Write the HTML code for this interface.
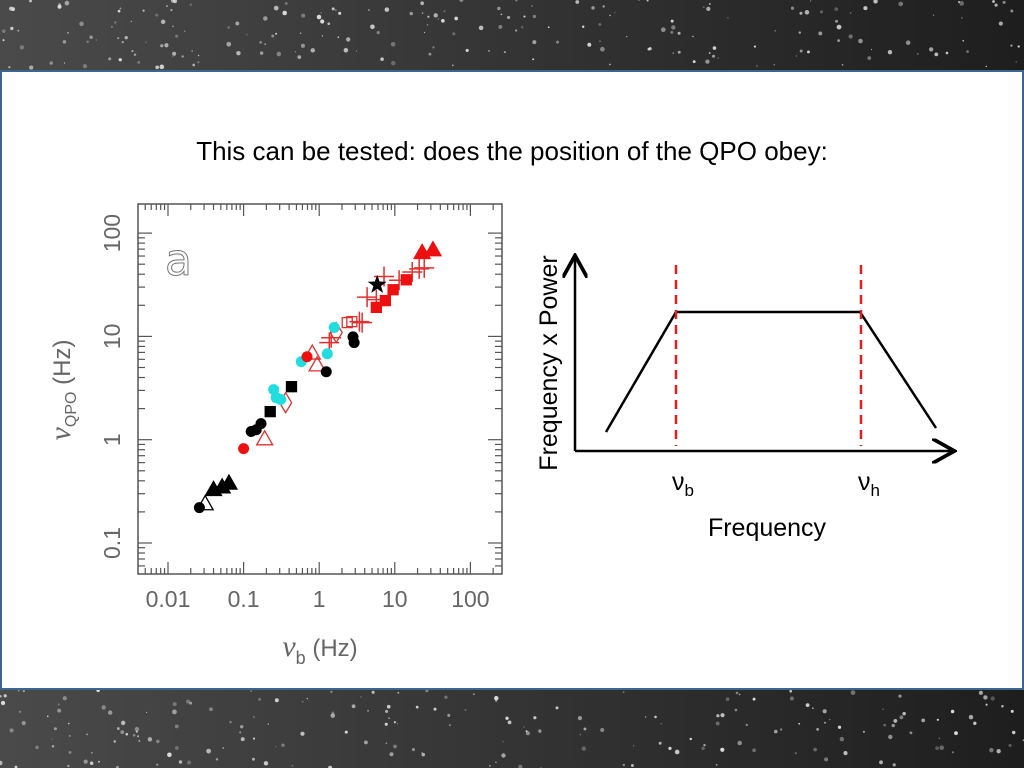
<!DOCTYPE html>
<html><head><meta charset="utf-8"><style>
html,body{margin:0;padding:0;width:1024px;height:768px;overflow:hidden;background:#2a2a2a;font-family:"Liberation Sans",sans-serif}
#stars{position:absolute;left:0;top:0}
#panel{position:absolute;left:0;top:70px;width:1020px;height:616px;background:#fff;border:2px solid #3d6591}
#title{position:absolute;left:0;top:136px;width:1024px;text-align:center;font-size:26px;color:#000}
svg{position:absolute;left:0;top:0}
</style></head><body>
<svg id="stars" width="1024" height="768">
<defs><linearGradient id="g" x1="0" x2="1"><stop offset="0" stop-color="#4a4a4a"/><stop offset="1" stop-color="#1e1e1e"/></linearGradient></defs>
<rect width="1024" height="768" fill="url(#g)"/><g id="dots" fill="#ddd"></g></svg>
<div id="panel"></div>
<div id="title">This can be tested: does the position of the QPO obey:</div>
<svg id="chart" width="1024" height="768">
<rect x="138" y="204" width="364" height="370" fill="#fff" stroke="#555" stroke-width="1.5"/>
<g id="ticks" stroke="#555" stroke-width="1.2"></g>
<g id="labels" fill="#666" font-size="23" font-family="'Liberation Sans',sans-serif"></g>
<g id="marks"></g>
<text x="165" y="275" font-size="44" fill="none" stroke="#777" stroke-width="1" font-family="'DejaVu Sans',sans-serif">a</text>
<text transform="translate(70,390) rotate(-90)" text-anchor="middle" font-size="24" fill="#666"><tspan font-style="italic" font-family="'Liberation Serif',serif" font-size="30">ν</tspan><tspan font-size="16" dy="6">QPO</tspan><tspan dy="-6"> (Hz)</tspan></text>
<text x="320" y="656" text-anchor="middle" font-size="24" fill="#666"><tspan font-style="italic" font-family="'Liberation Serif',serif" font-size="30">ν</tspan><tspan font-size="18" dy="8">b</tspan><tspan dy="-8"> (Hz)</tspan></text>
</svg>
<svg width="1024" height="768">
<defs><marker id="ar" markerWidth="10" markerHeight="10" refX="8" refY="5" orient="auto"><path d="M0,0 L9,5 L0,10" fill="none" stroke="#000" stroke-width="1.5"/></marker></defs>
<line x1="575" y1="451" x2="575" y2="258" stroke="#000" stroke-width="2.5" marker-end="url(#ar)"/>
<line x1="575" y1="451" x2="952" y2="451" stroke="#000" stroke-width="2.5" marker-end="url(#ar)"/>
<polyline points="606,432 676,312 860,312 936,428" fill="none" stroke="#000" stroke-width="2.5"/>
<line x1="676" y1="265" x2="676" y2="446" stroke="#e02020" stroke-width="2.5" stroke-dasharray="9,6"/>
<line x1="861" y1="265" x2="861" y2="446" stroke="#e02020" stroke-width="2.5" stroke-dasharray="9,6"/>
<text x="672" y="490" font-size="25">ν<tspan font-size="17" dy="6">b</tspan></text>
<text x="858" y="490" font-size="25">ν<tspan font-size="17" dy="6">h</tspan></text>
<text x="767" y="536" text-anchor="middle" font-size="25">Frequency</text>
<text transform="translate(557,363) rotate(-90)" text-anchor="middle" font-size="25">Frequency x Power</text>
</svg>
<script>
const NS="http://www.w3.org/2000/svg";
const dots=document.getElementById('dots');
let s=7;function rnd(){s=(s*9301+49297)%233280;return s/233280;}
for(let i=0;i<420;i++){const c=document.createElementNS(NS,'circle');const y=rnd()<0.5?rnd()*68:690+rnd()*78;
c.setAttribute('cx',rnd()*1024);c.setAttribute('cy',y);c.setAttribute('r',0.6+rnd()*1.8);c.setAttribute('opacity',0.3+rnd()*0.7);


dots.appendChild(c);}

const xTickLabels=["0.01","0.1","1","10","100"];
const yTickLabels=["0.1","1","10","100"];
const blackCircleX=[0.026,0.126,0.147,0.17,1.24,2.8,2.9];
const blackCircleY=[0.22,1.2,1.25,1.43,4.55,9.9,8.7];
const blackTriX=[0.040,0.052,0.064];
const blackTriY=[0.33,0.35,0.38];
const blackOpenTriX=[0.031];
const blackOpenTriY=[0.24];
const blackSquareX=[0.225,0.43];
const blackSquareY=[1.87,3.26];
const blackStarX=[5.85];
const blackStarY=[31.6];
const cyanX=[0.25,0.27,0.31,0.58,1.28,1.58];
const cyanY=[3.05,2.55,2.45,5.7,6.8,12.2];
const redCircleX=[0.1,0.69];
const redCircleY=[0.82,6.35];
const redOpenTriX=[0.19,0.81,0.94];
const redOpenTriY=[1.02,6.9,5.3];
const redDiamondX=[0.36,1.68];
const redDiamondY=[2.28,10.9];
const redPlusX=[1.36,1.44,3.4,3.7,4.3,5.7,7.2,11.4,17,21,24.5];
const redPlusY=[8.7,9.7,13.9,13.6,24,22.7,38,35,42,45,46];
const redOpenSqX=[2.35,2.7];
const redOpenSqY=[13.6,13.9];
const redSquareX=[5.7,7.5,9.5,14.2];
const redSquareY=[19.1,22.2,28.3,35.3];
const redTriX=[23,32];
const redTriY=[65,69];

const X=v=>168+75.6*(Math.log10(v)+2);
const Y=v=>543-103.3*(Math.log10(v)+1);
const ticks=document.getElementById('ticks'),labels=document.getElementById('labels'),marks=document.getElementById('marks');
function ln(x1,y1,x2,y2){const l=document.createElementNS(NS,'line');l.setAttribute('x1',x1);l.setAttribute('y1',y1);l.setAttribute('x2',x2);l.setAttribute('y2',y2);


ticks.appendChild(l);}
for(let d=-3;d<=2;d++)for(let m=1;m<10;m++){const v=m*Math.pow(10,d);const x=X(v);if(x<138||x>502)continue;const L=m==1?12:6;ln(x,574,x,574-L);ln(x,204,x,204+L);}
for(let d=-2;d<=2;d++)for(let m=1;m<10;m++){const v=m*Math.pow(10,d);const y=Y(v);if(y<204||y>574)continue;const L=m==1?14:7;ln(138,y,138+L,y);ln(502,y,502-L,y);}
xTickLabels.forEach(t=>{const e=document.createElementNS(NS,'text');e.setAttribute('x',X(parseFloat(t)));e.setAttribute('y',607);e.setAttribute('text-anchor','middle');e.textContent=t;


labels.appendChild(e);});
yTickLabels.forEach(t=>{const e=document.createElementNS(NS,'text');const y=Y(parseFloat(t));e.setAttribute('transform',`translate(120,${y}) rotate(-90)`);e.setAttribute('text-anchor','middle');e.textContent=t;


labels.appendChild(e);});
function mk(tag,attrs,name){const e=document.createElementNS(NS,tag);for(const k in attrs)e.setAttribute(k,attrs[k]);


marks.appendChild(e);}
function series(xs,ys,type,col,fill,name){xs.forEach((xv,i)=>{const x=X(xv),y=Y(ys[i]);
if(type=='c')mk('circle',{cx:x,cy:y,r:5.5,fill:col},name);
else if(type=='t')mk('polygon',{points:`${x},${y-8} ${x-8},${y+6} ${x+8},${y+6}`,fill:fill?col:'none',stroke:col,'stroke-width':1.3},name);
else if(type=='s')mk('rect',{x:x-5,y:y-5,width:10,height:10,fill:fill?col:'none',stroke:col,'stroke-width':1.3},name);
else if(type=='d')mk('polygon',{points:`${x},${y-10} ${x+6},${y} ${x},${y+10} ${x-6},${y}`,fill:'none',stroke:col,'stroke-width':1.3},name);
else if(type=='p')mk('path',{d:`M${x-10},${y}H${x+10}M${x},${y-10}V${y+10}`,stroke:col,'stroke-width':1.5},name);
else if(type=='star'){let p='';for(let k=0;k<10;k++){const r=k%2?4:10,a=-Math.PI/2+k*Math.PI/5;p+=`${x+r*Math.cos(a)},${y+r*Math.sin(a)} `;}mk('polygon',{points:p,fill:col},name);}
});}
series(redPlusX,redPlusY,'p','#e03030',0,'red-plus-point');
series(redOpenSqX,redOpenSqY,'s','#e03030',0,'red-open-square-point');
series(redDiamondX,redDiamondY,'d','#e03030',0,'red-diamond-point');
series(redOpenTriX,redOpenTriY,'t','#e03030',0,'red-open-triangle-point');
series(blackCircleX,blackCircleY,'c','#000',1,'black-circle-point');
series(blackTriX,blackTriY,'t','#000',1,'black-triangle-point');
series(blackOpenTriX,blackOpenTriY,'t','#000',0,'black-open-triangle-point');
series(blackSquareX,blackSquareY,'s','#000',1,'black-square-point');
series(cyanX,cyanY,'c','#22dde0',1,'cyan-circle-point');
series(redCircleX,redCircleY,'c','#ee1010',1,'red-circle-point');
series(redSquareX,redSquareY,'s','#ee1010',1,'red-square-point');
series(redTriX,redTriY,'t','#ee1010',1,'red-triangle-point');
series(blackStarX,blackStarY,'star','#000',1,'black-star-point');
</script>
</body></html>
